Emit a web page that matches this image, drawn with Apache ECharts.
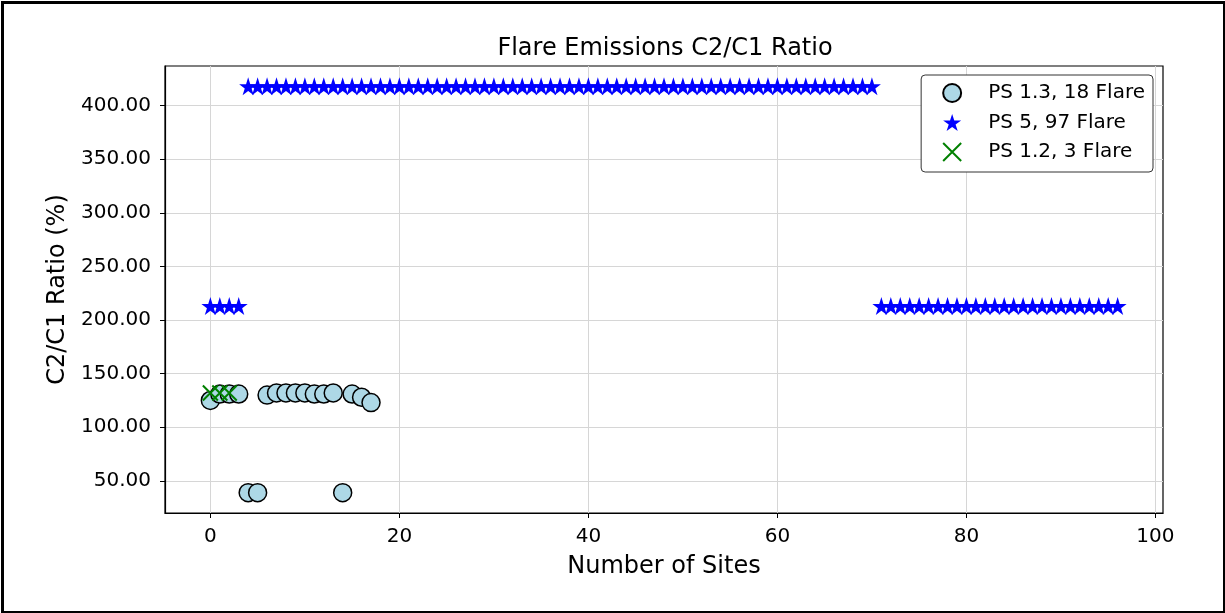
<!DOCTYPE html>
<html>
<head>
<meta charset="utf-8">
<script src="https://cdn.jsdelivr.net/npm/echarts@6/dist/echarts.min.js"></script>
<style>
  html, body { margin: 0; padding: 0; background: #fff; }
  #chart { width: 1225px; height: 613px; }
</style>
</head>
<body>
<div id="chart"></div>
<script>
// C2/C1 ratio per site, one array per flare group (x = site index)
const ps13Label = 'PS 1.3, 18 Flare';
const ps13Ratio = [125, 131, 131, 131, 39, 39, 130, 132, 132, 132, 132, 131, 131, 132, 39, 131, 128, 123];

const ps5Label = 'PS 5, 97 Flare';
const ps5Ratio = [
  213, 213, 213, 213,
  418, 418, 418, 418, 418, 418, 418, 418, 418, 418,
  418, 418, 418, 418, 418, 418, 418, 418, 418, 418,
  418, 418, 418, 418, 418, 418, 418, 418, 418, 418,
  418, 418, 418, 418, 418, 418, 418, 418, 418, 418,
  418, 418, 418, 418, 418, 418, 418, 418, 418, 418,
  418, 418, 418, 418, 418, 418, 418, 418, 418, 418,
  418, 418, 418, 418, 418, 418, 418,
  213, 213, 213, 213, 213, 213, 213, 213, 213, 213,
  213, 213, 213, 213, 213, 213, 213, 213, 213, 213,
  213, 213, 213, 213, 213, 213
];

const ps12Label = 'PS 1.2, 3 Flare';
const ps12Ratio = [132, 132, 132];

const xTicks = [0, 20, 40, 60, 80, 100];
const yTicks = [50, 100, 150, 200, 250, 300, 350, 400];

const titleText = 'Flare Emissions C2/C1 Ratio';
const xName = 'Number of Sites';
const yName = 'C2/C1 Ratio (%)';

// five-pointed star marker
function starPath() {
  const pts = [];
  for (let i = 0; i < 10; i++) {
    const r = i % 2 === 0 ? 50 : 19;
    const a = -Math.PI / 2 + i * Math.PI / 5;
    pts.push((50 + r * Math.cos(a)).toFixed(2) + ',' + (50 + r * Math.sin(a)).toFixed(2));
  }
  return 'path://M' + pts.join('L') + 'Z';
}

const toPairs = arr => arr.map((v, i) => [i, v]);

const font = 'DejaVu Sans';
const chart = echarts.init(document.getElementById('chart'), null, { renderer: 'canvas' });

chart.setOption({
  backgroundColor: '#fff',
  animation: false,
  title: {
    text: titleText,
    left: 660, top: 32, textAlign: 'center',
    textStyle: { fontFamily: font, fontSize: 24, fontWeight: 'normal', color: '#000' }
  },
  legend: {
    right: 72, top: 75,
    orient: 'vertical',
    itemWidth: 18, itemHeight: 18,
    itemGap: 9.5,
    padding: [8, 8, 10, 21],
    backgroundColor: '#fff',
    borderColor: '#333', borderWidth: 1, borderRadius: 4,
    textStyle: { fontFamily: font, fontSize: 20, color: '#000', padding: [0, 0, 0, 22] },
    data: [ps13Label, ps5Label, ps12Label]
  },
  grid: {
    left: 165, right: 62, top: 66, bottom: 100,
    show: true, borderColor: '#000', borderWidth: 1.2, backgroundColor: 'transparent'
  },
  xAxis: {
    type: 'value', min: -4.8, max: 100.8,
    name: xName, nameLocation: 'middle', nameGap: 42,
    nameTextStyle: { fontFamily: font, fontSize: 24, color: '#000' },
    axisLine: { show: true, onZero: false, lineStyle: { color: '#000', width: 1.2 } },
    axisTick: { show: true, length: 5, customValues: xTicks, lineStyle: { color: '#000' } },
    axisLabel: { customValues: xTicks, fontFamily: font, fontSize: 20, color: '#000', margin: 14 },
    splitLine: { show: true, lineStyle: { color: '#d6d6d6', width: 1 } }
  },
  yAxis: {
    type: 'value', min: 20.05, max: 436.95,
    name: yName, nameLocation: 'middle', nameGap: 91, nameRotate: 90,
    nameTextStyle: { fontFamily: font, fontSize: 24, color: '#000' },
    axisLine: { show: true, onZero: false, lineStyle: { color: '#000', width: 1.2 } },
    axisTick: { show: true, length: 5, customValues: yTicks, lineStyle: { color: '#000' } },
    axisLabel: {
      customValues: yTicks, fontFamily: font, fontSize: 20, color: '#000', margin: 14,
      formatter: v => v.toFixed(2)
    },
    splitLine: { show: true, lineStyle: { color: '#d6d6d6', width: 1 } }
  },
  series: [
    {
      name: ps13Label, type: 'scatter',
      data: toPairs(ps13Ratio),
      symbol: 'circle', symbolSize: 18,
      itemStyle: { color: '#add8e6', borderColor: '#000', borderWidth: 1.5, opacity: 1 },
      z: 2
    },
    {
      name: ps5Label, type: 'scatter',
      data: toPairs(ps5Ratio),
      symbol: starPath(), symbolSize: 18,
      itemStyle: { color: '#0000ff', opacity: 1 },
      z: 3
    },
    {
      name: ps12Label, type: 'scatter',
      data: toPairs(ps12Ratio),
      symbol: 'path://M0,0L10,10M10,0L0,10', symbolSize: 15,
      itemStyle: { color: 'rgba(0,0,0,0)', borderColor: '#008000', borderWidth: 2, opacity: 1 },
      z: 4
    }
  ],
  graphic: [
    {
      type: 'rect', left: 0, top: 0, z: 100, silent: true,
      shape: { x: 1.5, y: 1.5, width: 1222, height: 610 },
      style: { fill: 'none', stroke: '#000', lineWidth: 3 }
    }
  ]
});
</script>
</body>
</html>
